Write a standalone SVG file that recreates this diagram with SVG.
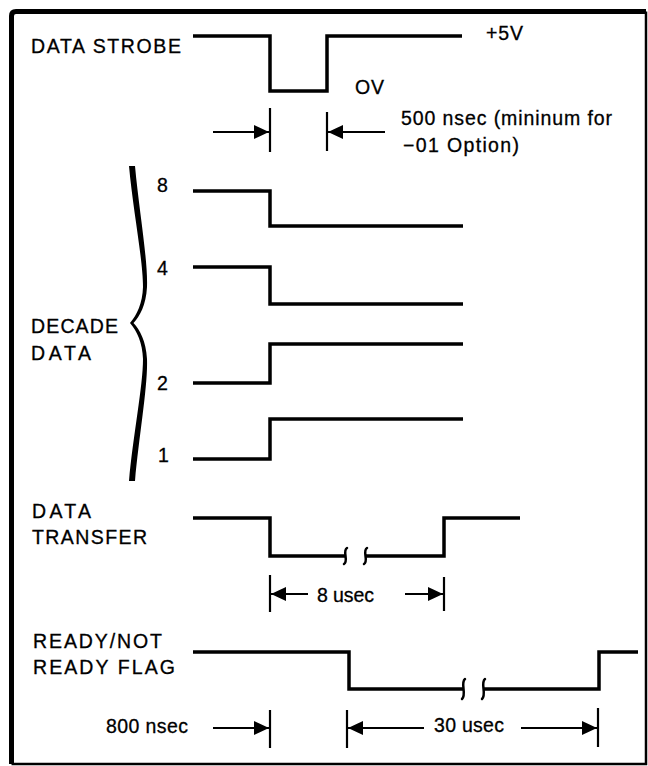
<svg xmlns="http://www.w3.org/2000/svg" width="648" height="766" viewBox="0 0 648 766">
<style>
text{font-family:"Liberation Sans",Arial,sans-serif;font-size:19.5px;fill:#000;stroke:#000;stroke-width:0.3}
.sig{fill:none;stroke:#000;stroke-width:3.5;stroke-linejoin:miter;stroke-linecap:butt}
.brk{fill:none;stroke:#000;stroke-width:2.5;stroke-linecap:round}
.tick{stroke:#000;stroke-width:2.2}
.dim{stroke:#000;stroke-width:2.2;fill:none}
</style>
<defs>
<marker id="ah" markerUnits="userSpaceOnUse" markerWidth="17" markerHeight="15" refX="15" refY="7" orient="auto">
<path d="M0,0 L15,7 L0,14 Z" fill="#000"/>
</marker>
</defs>
<rect width="648" height="766" fill="#fff"/>
<g id="frame">
<path d="M11.5 764 V16 Q11.5 11.5 16 11.5 H646" fill="none" stroke="#000" stroke-width="5"/>
<path d="M646 11.5 V764 H11.5" fill="none" stroke="#000" stroke-width="2.5"/>
</g>
<g id="data-strobe">
<text x="31" y="53" textLength="150" lengthAdjust="spacing">DATA STROBE</text>
<path class="sig" d="M193 36 H270 V91 H327 V36 H462"/>
<text x="486" y="40" textLength="37" lengthAdjust="spacing">+5V</text>
<text x="355" y="94" textLength="29" lengthAdjust="spacing">OV</text>
<text x="401" y="125" textLength="211" lengthAdjust="spacing">500 nsec (mininum for</text>
<text x="403" y="152" textLength="116" lengthAdjust="spacing">−01 Option)</text>
</g>
<g id="decade-data">
<path d="M129 166 L135 166 C139 210 148 260 147 287 C146 305 140 316 133.5 323 C140 330 146 341 147 359 C148 386 139 436 135 481 L129 481 C133 436 143 386 143 359 C142.5 343 137 331 130 323 C137 315 142.5 303 143 287 C143 260 133 210 129 166 Z" fill="#000"/>
<text x="31" y="333" textLength="87" lengthAdjust="spacing">DECADE</text>
<text x="31" y="360" textLength="60" lengthAdjust="spacing">DATA</text>
</g>
<g id="bit-8">
<text x="157" y="192">8</text>
<path class="sig" d="M193 191 H270 V226 H463"/>
</g>
<g id="bit-4">
<text x="157" y="275">4</text>
<path class="sig" d="M193 267 H270 V304 H463"/>
</g>
<g id="bit-2">
<text x="157" y="390">2</text>
<path class="sig" d="M193 383 H270 V344 H463"/>
</g>
<g id="bit-1">
<text x="158" y="462">1</text>
<path class="sig" d="M193 459 H270 V419 H463"/>
</g>
<g id="data-transfer">
<text x="32" y="518" textLength="59" lengthAdjust="spacing">DATA</text>
<text x="32" y="544" textLength="115" lengthAdjust="spacing">TRANSFER</text>
<path class="sig" d="M193 518 H270 V556 H345"/>
<path class="sig" d="M365 556 H444 V518 H520"/>
<path class="brk" d="M347 548 C342 551 349 561 344 564"/>
<path class="brk" d="M367 548 C362 551 369 561 364 564"/>
</g>
<g id="ready-flag">
<text x="33" y="648" textLength="129" lengthAdjust="spacing">READY/NOT</text>
<text x="33" y="674" textLength="142" lengthAdjust="spacing">READY FLAG</text>
<path class="sig" d="M193 652 H349 V689 H463"/>
<path class="sig" d="M483 689 H599 V652 H638"/>
<path class="brk" d="M465 679 C460 683 467 694 462 699"/>
<path class="brk" d="M485 679 C480 683 487 694 482 699"/>
</g>
<g id="connectors">
<line class="tick" x1="270" y1="108" x2="270" y2="152"/>
<line class="tick" x1="327" y1="112" x2="327" y2="151"/>
<line class="dim" x1="213" y1="132" x2="269" y2="132" marker-end="url(#ah)"/>
<line class="dim" x1="385" y1="132" x2="328" y2="132" marker-end="url(#ah)"/>
<line class="tick" x1="270" y1="575" x2="270" y2="612"/>
<line class="tick" x1="444" y1="577" x2="444" y2="611"/>
<line class="dim" x1="308" y1="594" x2="271" y2="594" marker-end="url(#ah)"/>
<line class="dim" x1="405" y1="594" x2="443" y2="594" marker-end="url(#ah)"/>
<text x="317" y="602" textLength="57" lengthAdjust="spacing">8 usec</text>
<line class="tick" x1="270" y1="710" x2="270" y2="748"/>
<line class="tick" x1="347" y1="710" x2="347" y2="748"/>
<line class="tick" x1="598" y1="708" x2="598" y2="747"/>
<line class="dim" x1="213" y1="728" x2="269" y2="728" marker-end="url(#ah)"/>
<line class="dim" x1="424" y1="728" x2="348" y2="728" marker-end="url(#ah)"/>
<line class="dim" x1="521" y1="728" x2="597" y2="728" marker-end="url(#ah)"/>
<text x="106" y="733" textLength="82" lengthAdjust="spacing">800 nsec</text>
<text x="434" y="732" textLength="70" lengthAdjust="spacing">30 usec</text>
</g>
</svg>
